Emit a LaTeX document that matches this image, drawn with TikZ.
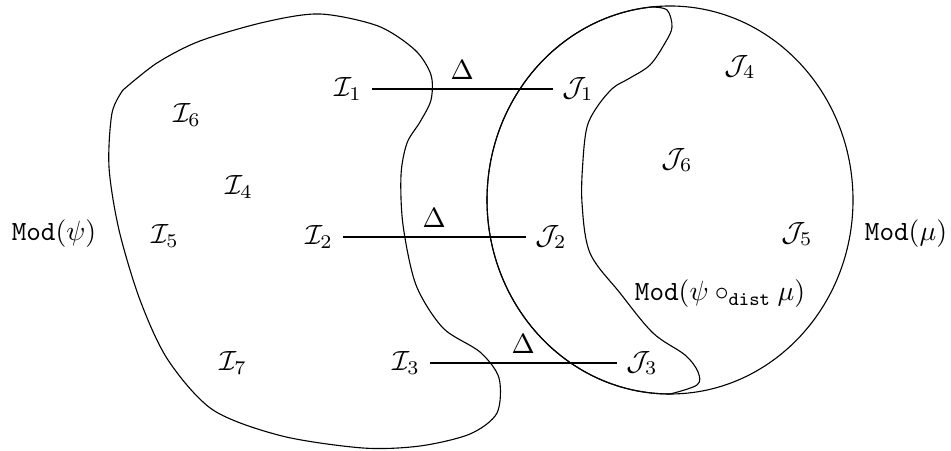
\documentclass[tikz,border=0pt]{standalone}
\usepackage{amsmath,amssymb}

\begin{document}
\begin{tikzpicture}[x=0.36pt, y=-0.36pt, every node/.style={font=\normalsize}]
	\useasboundingbox (0,0) rectangle (951,451);
	% region of psi
	\draw plot[smooth, tension=0.5] coordinates {(123,90) (157,63) (200,41) (265,22) (320,14) (378,26) (415,50) (431,75) (431,100) (420,122) (407,143) (401,175) (403,225) (416,285) (443,328) (480,352) (499,378) (497,413) (470,434) (420,446) (363,448) (282,436) (213,410) (168,360) (140,300) (119,230) (109,167) (112,113) (123,90)};
	% region of mu
	\draw (670,200) ellipse [x radius=183, y radius=194];
	% result region
	\draw (670,394) arc[start angle=90, end angle=264, x radius=183, y radius=194]
		-- plot[smooth, tension=0.55] coordinates {(651,7) (667,10) (672,27) (665,43) (650,65) (630,78) (613,88) (597,107) (587,127) (583,160) (582,203) (590,253) (620,293) (653,333) (685,355) (698,372) (697,385) (670,394)} -- cycle;
	% interpretations
	\node (I1) at (348,89) {$\mathcal{I}_1$};
	\node (I2) at (319,237) {$\mathcal{I}_2$};
	\node (I3) at (406,363) {$\mathcal{I}_3$};
	\node (I4) at (239,187) {$\mathcal{I}_4$};
	\node (I5) at (165,236) {$\mathcal{I}_5$};
	\node (I6) at (187,115) {$\mathcal{I}_6$};
	\node (I7) at (233,363) {$\mathcal{I}_7$};
	\node (J1) at (578,89) {$\mathcal{J}_1$};
	\node (J2) at (551,237) {$\mathcal{J}_2$};
	\node (J3) at (642,363) {$\mathcal{J}_3$};
	\node (J4) at (740,67) {$\mathcal{J}_4$};
	\node (J5) at (797,234) {$\mathcal{J}_5$};
	\node (J6) at (677,160) {$\mathcal{J}_6$};
	\foreach \k in {1,2,3} {
		\draw (I\k) -- node[above] {$\Delta$} (J\k);
	}
	\node (modpsi) at (54,234) {$\mathtt{Mod}(\psi)$};
	\node (modmu) at (906,234) {$\mathtt{Mod}(\mu)$};
	\node (modres) at (720,294) {$\mathtt{Mod}(\psi\circ_{\mathtt{dist}}\mu)$};
\end{tikzpicture}
\end{document}
